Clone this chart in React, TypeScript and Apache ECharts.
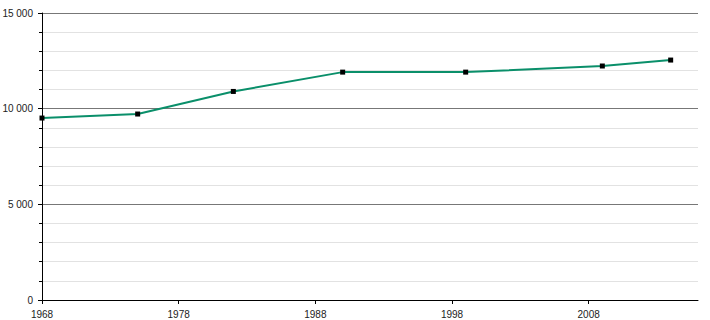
import React, { useEffect, useRef } from "react";
import * as echarts from "echarts";

const years = [1968, 1975, 1982, 1990, 1999, 2009, 2014];
const population = [9510, 9720, 10900, 11910, 11910, 12230, 12540];
const xTickYears = [1968, 1978, 1988, 1998, 2008];

const fmt = (v: number) =>
  String(v).replace(/\B(?=(\d{3})+(?!\d))/g, " ");

export default function App() {
  const ref = useRef<HTMLDivElement>(null);
  useEffect(() => {
    if (!ref.current) return;
    const chart = echarts.init(ref.current, undefined, { renderer: "svg" });
    chart.setOption({
      animation: false,
      grid: {
        left: 42,
        right: 12,
        top: 13,
        bottom: 20,
        containLabel: false,
        outerBoundsMode: "none",
      },
      xAxis: {
        type: "value",
        min: 1968,
        max: 2016,
        interval: 10,
        axisLine: { show: true, lineStyle: { color: "#000", width: 1 } },
        axisTick: {
          show: true,
          length: 4,
          lineStyle: { color: "#000" },
          customValues: xTickYears,
        },
        axisLabel: {
          color: "#222",
          fontFamily: "Liberation Sans, Arial, sans-serif",
          fontSize: 10,
          margin: 9,
          customValues: xTickYears,
          formatter: (v: number) => String(v),
        },
        splitLine: { show: false },
      },
      yAxis: {
        type: "value",
        min: 0,
        max: 15000,
        interval: 5000,
        axisLine: { show: true, lineStyle: { color: "#000", width: 1 } },
        axisTick: { show: true, length: 4, lineStyle: { color: "#000" } },
        minorTick: { show: true, splitNumber: 5, length: 3, lineStyle: { color: "#000" } },
        axisLabel: {
          color: "#222",
          fontFamily: "Liberation Sans, Arial, sans-serif",
          fontSize: 10,
          margin: 9,
          formatter: (v: number) => fmt(v),
        },
        splitLine: { show: true, lineStyle: { color: "#777", width: 1 } },
        minorSplitLine: { show: true, lineStyle: { color: "#e2e2e2", width: 1 } },
      },
      series: [
        {
          type: "line",
          data: years.map((y, i) => [y, population[i]]),
          lineStyle: { color: "#0a8f6a", width: 2 },
          itemStyle: { color: "#000" },
          symbol: "rect",
          symbolSize: 5,
          showSymbol: true,
        },
      ],
    });
    return () => chart.dispose();
  }, []);
  return <div ref={ref} style={{ width: 710, height: 320, position: "absolute", left: 0, top: 0, background: "#fff" }} />;
}
